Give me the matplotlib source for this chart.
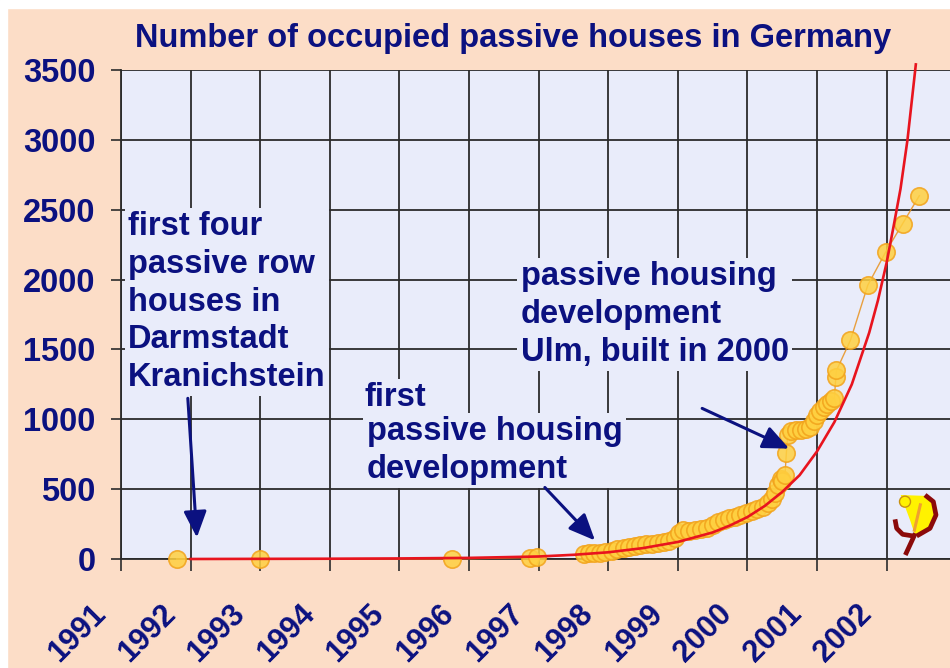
import matplotlib.pyplot as plt
from matplotlib.patches import Rectangle, Ellipse, Polygon
from matplotlib.lines import Line2D
from matplotlib.transforms import ScaledTranslation

# Colours
PEACH = '#FCDDC7'
PLOT_BG = '#E9ECFA'
NAVY = '#0B1180'
GRID = '#2B2B2B'
RED = '#E8141E'
MARKER_FACE = '#FFD040'
MARKER_EDGE = '#F2A31B'
LINE_ORANGE = '#E8921E'

plt.rcParams['font.family'] = ['Liberation Sans', 'DejaVu Sans']
plt.rcParams['font.weight'] = 'bold'

# Occupied passive houses
house_years = [1991.80, 1993.00, 1995.75, 1996.88, 1996.98,
               1997.65, 1997.72, 1997.80, 1997.88, 1997.96,
               1998.05, 1998.13, 1998.22, 1998.30, 1998.38,
               1998.46, 1998.55, 1998.63, 1998.72, 1998.80,
               1998.88, 1998.96, 1999.02, 1999.08, 1999.16,
               1999.25, 1999.33, 1999.42, 1999.50, 1999.58,
               1999.66, 1999.74, 1999.82, 1999.90, 1999.98,
               2000.06, 2000.14, 2000.22, 2000.30, 2000.36,
               2000.40, 2000.44, 2000.48, 2000.50, 2000.54,
               2000.56, 2000.58, 2000.63, 2000.70, 2000.77,
               2000.84, 2000.90, 2000.95, 2001.00, 2001.05,
               2001.10, 2001.15, 2001.20, 2001.25, 2001.27,
               2001.28, 2001.48, 2001.73, 2001.99, 2002.23,
               2002.47]
house_counts = [0, 0, 0, 10, 12,
                35, 40, 42, 45, 50,
                60, 70, 80, 85, 92,
                98, 105, 110, 115, 122,
                130, 150, 185, 205, 200,
                208, 215, 225, 240, 262,
                278, 290, 300, 315, 330,
                345, 360, 375, 400, 430,
                470, 530, 570, 560, 600,
                760, 890, 915, 920, 925,
                930, 945, 990, 1030, 1060,
                1090, 1110, 1130, 1150, 1300,
                1350, 1565, 1960, 2200, 2400,
                2600]

# Red trend curve
trend_years = [1992.0, 1993.0, 1994.0, 1995.0, 1996.0, 1997.0, 1997.5,
               1998.0, 1998.5, 1999.0, 1999.5, 1999.75, 2000.0, 2000.25,
               2000.5, 2000.75, 2001.0, 2001.25, 2001.5, 2001.75, 2001.875,
               2002.0, 2002.1, 2002.2, 2002.3, 2002.42]
trend_counts = [0, 1, 2, 4, 8, 18, 30,
                48, 78, 122, 190, 240, 300, 380,
                480, 600, 770, 980, 1250, 1620, 1850,
                2120, 2380, 2650, 3000, 3540]

year_ticks = list(range(1991, 2003))
count_ticks = list(range(0, 3501, 500))

W, H = 950, 668
TEXT_SIZE = 23.5


def px(x, y):
    # pixel position -> figure fraction
    return x / W, 1 - y / H


fig = plt.figure(figsize=(9.5, 6.68), dpi=100, facecolor=PEACH)

# thin white frame at top and left of the slide
fig.patches.append(Rectangle((0, 0), 7 / W, 1, transform=fig.transFigure,
                             color='white', zorder=-5))
fig.patches.append(Rectangle((0, 1 - 8 / H), 1, 8 / H, transform=fig.transFigure,
                             color='white', zorder=-5))

ax = fig.add_axes([121 / W, 109 / H, (W - 121) / W, 489 / H])
ax.set_facecolor(PLOT_BG)
ax.set_xlim(1991, 1991 + (W - 121) / 69.6)
ax.set_ylim(0, 3500)

ax.grid(True, color=GRID, linewidth=1.3, zorder=0)
ax.set_axisbelow(True)
for side in ['top', 'right']:
    ax.spines[side].set_visible(False)
for side in ['left', 'bottom']:
    ax.spines[side].set_color(GRID)
    ax.spines[side].set_linewidth(1.3)

ax.set_xticks(year_ticks)
ax.set_xticklabels([str(y) for y in year_ticks], rotation=45, ha='right', va='top')
ax.set_yticks(count_ticks)
ax.set_yticklabels([str(c) for c in count_ticks])
ax.tick_params(axis='x', length=8.6, width=1.2, color=GRID, pad=20,
               labelsize=22, labelcolor=NAVY)
ax.tick_params(axis='y', length=7.2, width=1.2, color=GRID, pad=11,
               labelsize=TEXT_SIZE, labelcolor=NAVY)
for label in ax.get_xticklabels():
    label.set_transform(label.get_transform() +
                        ScaledTranslation(-9 / 100, 0, fig.dpi_scale_trans))

# data
ax.plot(house_years, house_counts, color=LINE_ORANGE, linewidth=1.0,
        marker='o', markersize=12.5, markerfacecolor=MARKER_FACE,
        markeredgecolor=MARKER_EDGE, markeredgewidth=1.2, alpha=0.85,
        zorder=3, clip_on=False)
ax.plot(trend_years, trend_counts, color=RED, linewidth=1.9, zorder=4,
        clip_on=False)

# annotations
box = dict(boxstyle='square,pad=0.1', facecolor=PLOT_BG, edgecolor='none')
text_style = dict(fontsize=TEXT_SIZE, color=NAVY, ha='left', va='top',
                  linespacing=1.28, zorder=5, bbox=box)
arrow_style = dict(arrowstyle='-|>,head_length=0.8,head_width=0.35',
                   color=NAVY, lw=2.2, mutation_scale=20,
                   shrinkA=0, shrinkB=0)

ax.text(1991.10, 2490, 'first four\npassive row\nhouses in\nDarmstadt\nKranichstein',
        **text_style)
ax.text(1994.50, 1265, 'first', **text_style)
ax.text(1994.53, 1020, 'passive housing\ndevelopment', **text_style)
ax.text(1996.74, 2130, 'passive housing\ndevelopment\nUlm, built in 2000',
        **text_style)

ax.annotate('', xy=(1992.09, 154), xytext=(1991.96, 1150),
            arrowprops=arrow_style, zorder=6)
ax.annotate('', xy=(1997.81, 133), xytext=(1997.09, 512),
            arrowprops=arrow_style, zorder=6)
ax.annotate('', xy=(2000.60, 790), xytext=(1999.35, 1078),
            arrowprops=arrow_style, zorder=6)

fig.text(*px(513, 39), 'Number of occupied passive houses in Germany',
         ha='center', va='center', fontsize=TEXT_SIZE, color=NAVY)


# small institute logo, bottom right
def zpx(zx, zy):
    return px(880 + zx / 3, 480 + zy / 3)


logo_tf = fig.transFigure
fig.patches.append(Polygon([zpx(62, 45), zpx(145, 48), zpx(165, 85), zpx(160, 130),
                            zpx(130, 160), zpx(105, 165), zpx(90, 120)], closed=True,
                           facecolor='#FFF200', edgecolor='none',
                           transform=logo_tf, zorder=10))
for pts, col, lw in [
        ([(122, 70), (102, 155)], '#F0A030', 2.2),
        ([(135, 45), (160, 65), (168, 105), (150, 145), (110, 168)], '#8B0A0A', 3.4),
        ([(45, 118), (50, 145), (68, 163), (100, 168)], '#8B0A0A', 3.4),
        ([(106, 160), (76, 225)], '#8B0A0A', 3.4)]:
    xs, ys = zip(*[zpx(a, b) for a, b in pts])
    fig.lines.append(Line2D(xs, ys, color=col, linewidth=lw, transform=logo_tf,
                            zorder=11, solid_capstyle='butt'))
fig.patches.append(Ellipse(zpx(75, 65), 11 / W, 11 / H, facecolor='#FFF200',
                           edgecolor='#C89010', linewidth=1,
                           transform=logo_tf, zorder=12))

fig.savefig('out.png', dpi=100, facecolor=PEACH)
plt.close(fig)
